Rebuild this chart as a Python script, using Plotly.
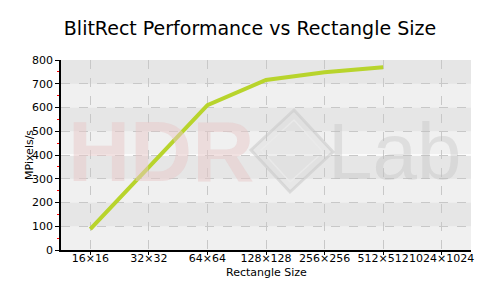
import plotly.graph_objects as go

categories = ["16×16", "32×32", "64×64", "128×128", "256×256", "512×512", "1024×1024"]
mpixels = [88, 351, 610, 716, 748, 769, None]
y_ticks = [0, 100, 200, 300, 400, 500, 600, 700, 800]

# plot-area pixel geometry (500x300 canvas)
L, R, T, B = 61, 471, 60, 250
def px(x):
    return (x - L) / (R - L)
def py(y):
    return (B - y) / (B - T)

fig = go.Figure()
fig.add_trace(go.Scatter(
    x=categories, y=mpixels, mode="lines",
    line=dict(color="#b8d42c", width=4),
    connectgaps=False, showlegend=False, hoverinfo="skip",
))

shapes = []
for i in range(len(y_ticks) - 1):
    shapes.append(dict(type="rect", xref="paper", yref="y", x0=0, x1=1,
                       y0=y_ticks[i], y1=y_ticks[i + 1],
                       fillcolor="#f0f0f0" if i % 2 == 0 else "#e6e6e6",
                       line=dict(width=0), layer="below"))
shapes.append(dict(type="line", xref="paper", yref="y", x0=0, x1=1, y0=400, y1=400,
                   line=dict(color="white", width=1.5), layer="below"))
# watermark diamond logo
shapes.append(dict(type="path", xref="paper", yref="paper",
                   path=f"M {px(294)} {py(110)} L {px(333)} {py(152)} L {px(290)} {py(192)} L {px(251)} {py(150)} Z",
                   line=dict(color="rgba(200,200,200,0.55)", width=3),
                   fillcolor="rgba(215,215,215,0.35)", layer="below"))
shapes.append(dict(type="path", xref="paper", yref="paper",
                   path=f"M {px(294)} {py(120)} L {px(323)} {py(152)} L {px(290)} {py(182)} L {px(261)} {py(150)} Z",
                   line=dict(color="rgba(235,235,235,0.8)", width=1.5),
                   fillcolor="rgba(0,0,0,0)", layer="below"))

annotations = [
    dict(text="<b>HDR</b>", xref="paper", yref="paper", x=px(161), y=py(151),
         xanchor="center", yanchor="middle",
         showarrow=False, font=dict(family="Liberation Sans", size=86, color="rgba(232,200,200,0.5)")),
    dict(text="Lab", xref="paper", yref="paper", x=px(394), y=py(151),
         xanchor="center", yanchor="middle",
         showarrow=False, font=dict(family="Liberation Sans", size=80, color="rgba(190,190,190,0.35)")),
    dict(text="Rectangle Size", xref="paper", yref="paper", x=px(266), y=py(272),
         xanchor="center", yanchor="middle", showarrow=False, font=dict(size=11, color="black")),
    dict(text="MPixels/s", xref="paper", yref="paper", x=px(29), y=py(155),
         xanchor="center", yanchor="middle", textangle=-90, showarrow=False,
         font=dict(size=11, color="black")),
]

fig.update_layout(
    width=500, height=300,
    margin=dict(l=L, r=500 - R, t=T, b=300 - B),
    paper_bgcolor="white", plot_bgcolor="#f0f0f0",
    font=dict(family="DejaVu Sans", size=11, color="black"),
    title=dict(text="BlitRect Performance vs Rectangle Size", x=0.5, xanchor="center",
               y=1 - 28 / 300, yanchor="middle", font=dict(size=19, color="black")),
    shapes=shapes, annotations=annotations,
    xaxis=dict(type="category", categoryorder="array", categoryarray=categories,
               range=[-0.5, 6.5], showline=True, linecolor="black", linewidth=1.5,
               ticks="outside", ticklen=3, tickcolor="black", tickangle=0, automargin=False,
               ticklabelstandoff=-6,
               showgrid=True, gridcolor="#c8c8c8", griddash="dash", gridwidth=1,
               zeroline=False),
    yaxis=dict(range=[0, 800], tickvals=y_ticks, showline=True, linecolor="black", linewidth=1.5,
               ticks="outside", ticklen=4, tickcolor="black", automargin=False,
               showgrid=True, gridcolor="#c8c8c8", griddash="dash", gridwidth=1,
               minor=dict(dtick=50, ticks="outside", ticklen=2, tickcolor="red", showgrid=False),
               zeroline=False),
)

fig.write_html("out.html")
